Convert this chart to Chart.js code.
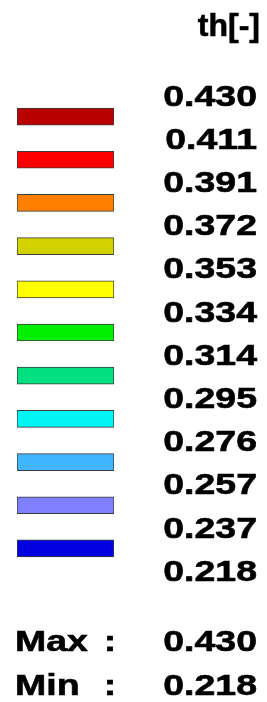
<!DOCTYPE html>
<html><head><meta charset="utf-8">
<script src="https://cdn.jsdelivr.net/npm/chart.js@4"></script>
<style>html,body{margin:0;padding:0;background:#fff;overflow:hidden}canvas{display:block}</style>
</head><body>
<canvas id="c" width="267" height="702"></canvas>
<script>
const titleText = 'th[-]';
const tickLabels = ['0.430','0.411','0.391','0.372','0.353','0.334','0.314','0.295','0.276','0.257','0.237','0.218'];
const bandColors = ['#B80000','#FF0000','#FF8000','#D2D200','#FFFF00','#00F000','#00E080','#00F5F5','#40B4FF','#8080FF','#0000E0'];
const maxLabel = 'Max';
const minLabel = 'Min';
const maxValue = '0.430';
const minValue = '0.218';

const bands = bandColors.map((c, i) => ({ x: [0, 1], y: i + 0.5 }));

const FONT = 'bold 30px "Liberation Sans", Arial, sans-serif';
const SX = 1.25;
const CAP = 21.5;

function drawStretched(ctx, text, x, yCenter, align) {
  ctx.save();
  ctx.font = FONT;
  ctx.fillStyle = '#000';
  ctx.strokeStyle = '#000';
  ctx.lineWidth = 0.6;
  ctx.textAlign = align;
  ctx.textBaseline = 'alphabetic';
  ctx.translate(x, yCenter + CAP / 2);
  ctx.scale(SX, 1);
  ctx.fillText(text, 0, 0);
  ctx.strokeText(text, 0, 0);
  ctx.restore();
}

const textPlugin = {
  id: 'legendText',
  afterDraw(chart) {
    const ctx = chart.ctx;
    const ys = chart.scales.y;
    ctx.save();
    ctx.font = 'bold 32px "Liberation Sans", Arial, sans-serif';
    ctx.fillStyle = '#000';
    ctx.strokeStyle = '#000';
    ctx.lineWidth = 0.6;
    ctx.textAlign = 'right';
    ctx.textBaseline = 'alphabetic';
    ctx.fillText(titleText, 260, 36);
    ctx.strokeText(titleText, 260, 36);
    ctx.restore();
    tickLabels.forEach((t, i) => {
      drawStretched(ctx, t, 257, ys.getPixelForValue(i), 'right');
    });
    drawStretched(ctx, maxLabel, 15, 640, 'left');
    drawStretched(ctx, ':', 110, 640, 'center');
    drawStretched(ctx, maxValue, 257, 640, 'right');
    drawStretched(ctx, minLabel, 15, 684.5, 'left');
    drawStretched(ctx, ':', 110, 684.5, 'center');
    drawStretched(ctx, minValue, 257, 684.5, 'right');
  }
};

new Chart(document.getElementById('c'), {
  type: 'bar',
  data: {
    datasets: [{
      data: bands,
      backgroundColor: bandColors,
      borderColor: '#3c3c3c',
      borderWidth: 1,
      borderSkipped: false,
      barThickness: 17
    }]
  },
  options: {
    indexAxis: 'y',
    responsive: false,
    animation: false,
    devicePixelRatio: 1,
    layout: { padding: { left: 17, right: 153, top: 95, bottom: 132 } },
    scales: {
      x: { type: 'linear', min: 0, max: 1, display: false, offset: false },
      y: { type: 'linear', min: 0, max: 11, reverse: true, display: false, offset: false }
    },
    plugins: { legend: { display: false }, tooltip: { enabled: false }, title: { display: false } }
  },
  plugins: [textPlugin]
});
</script>
</body></html>
